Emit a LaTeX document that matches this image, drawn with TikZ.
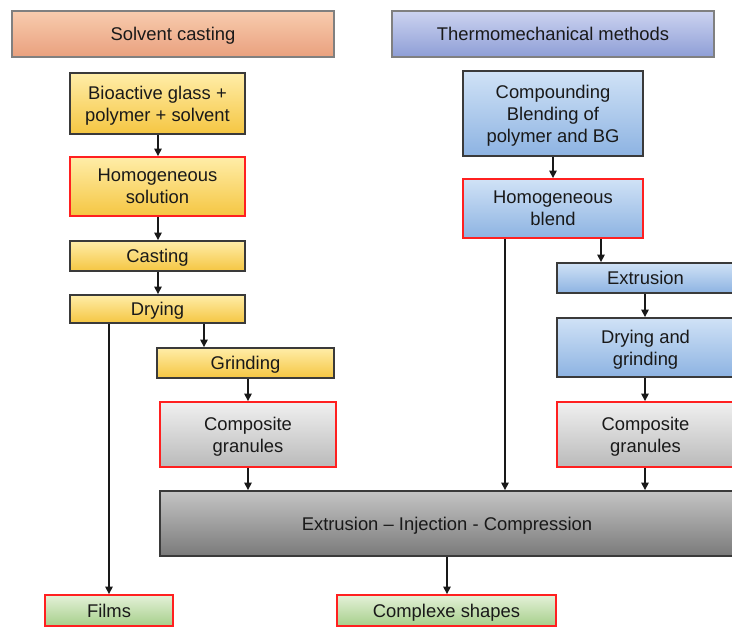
\documentclass[tikz,border=0pt]{standalone}
\usepackage{fontspec}
\setmainfont{Liberation Sans}
\usetikzlibrary{arrows.meta}
\definecolor{bordr}{HTML}{3A3A3A}
\definecolor{redb}{HTML}{FF2020}
\definecolor{hdrb}{HTML}{808080}
\definecolor{salT}{HTML}{F8CCAE}
\definecolor{salB}{HTML}{E9A07E}
\definecolor{hblT}{HTML}{CCD3F0}
\definecolor{hblB}{HTML}{8E9ED6}
\definecolor{yelT}{HTML}{FFEDA8}
\definecolor{yelB}{HTML}{F5C642}
\definecolor{bluT}{HTML}{D0E2F6}
\definecolor{bluB}{HTML}{8DB3E2}
\definecolor{gryT}{HTML}{F0F0F0}
\definecolor{gryB}{HTML}{BABABA}
\definecolor{bigT}{HTML}{C4C4C4}
\definecolor{bigB}{HTML}{7A7A7A}
\definecolor{grnT}{HTML}{E4F1D8}
\definecolor{grnB}{HTML}{A6CF8B}
\tikzset{
  base/.style={line width=1.4pt, align=center, inner sep=0pt, anchor=center, text depth=0pt,
    font=\fontsize{13.8}{16.5}\selectfont, text=black!90},
  hdrsalmon/.style={base, draw=hdrb, top color=salT, bottom color=salB},
  hdrblue/.style={base, draw=hdrb, top color=hblT, bottom color=hblB},
  yel/.style={base, draw=bordr, top color=yelT, bottom color=yelB},
  blu/.style={base, draw=bordr, top color=bluT, bottom color=bluB},
  gry/.style={base, draw=redb, top color=gryT, bottom color=gryB},
  big/.style={base, draw=bordr, top color=bigT, bottom color=bigB},
  grn/.style={base, draw=redb, top color=grnT, bottom color=grnB},
  redborder/.style={draw=redb},
  arr/.style={line width=1.1pt, draw=black!90, -{Triangle[length=5.5pt,width=5.5pt]}},
}
\newcommand\mybox[7]{%
  \pgfmathsetmacro\bxw{(#5-#3)*0.75}%
  \pgfmathsetmacro\bxh{(#6-#4)*0.75}%
  \pgfmathsetmacro\bxx{(#3+#5)/2}%
  \pgfmathsetmacro\bxy{(#4+#6)/2}%
  \node[#1, minimum width=\bxw pt, minimum height=\bxh pt] (#2) at (\bxx,\bxy) {#7};}
\begin{document}
\begin{tikzpicture}[x=0.75pt, y=-0.75pt]
\useasboundingbox (0,0) rectangle (732,630);
% headers
\mybox{hdrsalmon}{hs}{12}{11}{334}{57}{Solvent casting}
\mybox{hdrblue}{ht}{392}{11}{714}{57}{Thermomechanical methods}
% left column
\mybox{yel}{bio}{70}{73}{245}{134}{Bioactive glass +\\polymer + solvent}
\mybox{yel,redborder}{hsol}{70}{157}{245}{216}{Homogeneous\\solution}
\mybox{yel}{cast}{70}{241}{245}{271}{Casting}
\mybox{yel}{dry}{70}{295}{245}{323}{Drying}
\mybox{yel}{grind}{157}{348}{334}{378}{Grinding}
\mybox{gry}{compl}{160}{402}{336}{467}{Composite\\granules}
% right column
\mybox{blu}{comp}{463}{71}{643}{156}{Compounding\\Blending of\\polymer and BG}
\mybox{blu,redborder}{hbl}{463}{179}{643}{238}{Homogeneous\\blend}
\mybox{blu}{ext}{557}{263}{734}{293}{Extrusion}
\mybox{blu}{dg}{557}{318}{734}{377}{Drying and\\grinding}
\mybox{gry}{compr}{557}{402}{734}{467}{Composite\\granules}
% bottom
\mybox{big}{eic}{160}{491}{734}{556}{Extrusion -- Injection - Compression}
\mybox{grn}{films}{45}{595}{173}{626}{Films}
\mybox{grn}{cs}{337}{595}{556}{626}{Complexe shapes}
% connectors
\draw[arr] (bio.south -| 158,0) -- (hsol.north -| 158,0);
\draw[arr] (hsol.south -| 158,0) -- (cast.north -| 158,0);
\draw[arr] (cast.south -| 158,0) -- (dry.north -| 158,0);
\draw[arr] (dry.south -| 204,0) -- (grind.north -| 204,0);
\draw[arr] (grind.south -| 248,0) -- (compl.north -| 248,0);
\draw[arr] (dry.south -| 109,0) -- (films.north -| 109,0);
\draw[arr] (compl.south -| 248,0) -- (eic.north -| 248,0);
\draw[arr] (comp.south -| 553,0) -- (hbl.north -| 553,0);
\draw[arr] (hbl.south -| 505,0) -- (eic.north -| 505,0);
\draw[arr] (hbl.south -| 601,0) -- (ext.north -| 601,0);
\draw[arr] (ext.south -| 645,0) -- (dg.north -| 645,0);
\draw[arr] (dg.south -| 645,0) -- (compr.north -| 645,0);
\draw[arr] (compr.south -| 645,0) -- (eic.north -| 645,0);
\draw[arr] (eic.south -| 447,0) -- (cs.north -| 447,0);
\end{tikzpicture}
\end{document}
